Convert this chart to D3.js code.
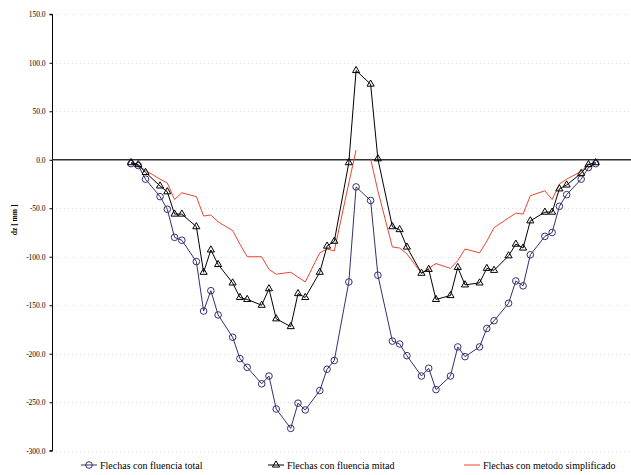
<!DOCTYPE html>
<html><head><meta charset="utf-8">
<script src="https://cdn.jsdelivr.net/npm/d3@7"></script>
<style>
html,body{margin:0;padding:0;background:#fff;}
svg{display:block;}
svg text{font-family:"Liberation Serif","DejaVu Serif",serif !important;fill:#000;}
</style></head>
<body>
<svg id="chart" width="631" height="475"></svg>
<script>
// station positions (horizontal axis is hidden)
const stations = [0,1,2,4,5,6,7,9,10,11,12,14,15,16,18,19,20,22,23,24,26,27,28,30,31,
                  33,34,36,37,38,40,41,42,44,45,46,48,49,50,52,53,54,55,57,58,59,60,62,63,64];
const fluenciaTotal = [-4,-6,-20,-38,-51,-80,-83,-105,-156,-135,-160,-183,-205,-214,-231,-223,-257,-277,-251,-258,-238,-216,-207,-126,-28,
                       -42,-119,-187,-190,-202,-223,-215,-237,-223,-193,-203,-193,-174,-166,-148,-125,-130,-98,-79,-75,-48,-36,-20,-8,-4];
const fluenciaMitad = [-3,-5,-13,-27,-33,-56,-56,-69,-116,-93,-108,-127,-142,-144,-150,-133,-164,-172,-138,-142,-116,-89,-84,-3,92,
                       78,1,-69,-72,-90,-117,-113,-144,-140,-111,-129,-127,-112,-114,-99,-87,-91,-63,-54,-54,-30,-26,-14,-5,-3];
// simplified method: same stations, with a break at the centre (station 32)
const simpStations = [0,1,2,4,5,6,7,9,10,11,12,14,15,16,18,19,20,22,23,24,26,27,28,30,31,32,
                      33,34,36,37,38,40,41,42,44,45,46,48,49,50,52,53,54,55,57,58,59,60,62,63,64];
const metodoSimplificado = [-3,-6,-11,-20,-24,-41,-34,-38,-58,-57,-64,-73,-87,-100,-100,-113,-118,-116,-121,-126,-96,-92,-94,-24,10,null,
                            1,-32,-90,-91,-97,-117,-112,-107,-112,-104,-92,-96,-84,-70,-60,-55,-56,-37,-32,-41,-25,-20,-12,-5,-3];
const yTicks = [150,100,50,0,-50,-100,-150,-200,-250,-300];
const seriesNames = ["Flechas con fluencia total","Flechas con fluencia mitad","Flechas con metodo simplificado"];
const colors = {total:"#35306f", mitad:"#000000", simp:"#ee4433"};

const svg = d3.select("#chart");
const x = d3.scaleLinear().domain([0,64]).range([131,595.7]);
const y = d3.scaleLinear().domain([-300,150]).range([450.7,14.3]);
const plotLeft = 52, plotRight = 631;

// gridlines
svg.append("g").selectAll("line").data(yTicks.filter(d=>d!==0)).join("line")
  .attr("x1",plotLeft).attr("x2",plotRight)
  .attr("y1",d=>Math.round(y(d))+0.5).attr("y2",d=>Math.round(y(d))+0.5)
  .attr("stroke","#dcdcdc").attr("stroke-width",1).attr("stroke-dasharray","1,3");

// y axis
const yAxis = d3.axisLeft(y).tickValues(yTicks).tickFormat(d=>d.toFixed(1)).tickSize(3).tickPadding(4);
const ga = svg.append("g").attr("transform",`translate(${plotLeft+0.5},0)`).call(yAxis);
ga.select(".domain").attr("d",`M-3,${y(150)}H0V${y(-300)}H-3`).attr("stroke","#000");
ga.selectAll(".tick line").attr("stroke","#000");
ga.selectAll("text").attr("font-size","7.5px");

// zero line
svg.append("line").attr("x1",plotLeft).attr("x2",plotRight)
  .attr("y1",y(0)).attr("y2",y(0)).attr("stroke","#333").attr("stroke-width",1.3);

// axis title
svg.append("text").attr("transform",`translate(17,${y(-62)}) rotate(-90)`)
  .attr("text-anchor","middle")
  .attr("font-size","7.5px").attr("font-weight","bold").text("dz [ mm ]");

const line = d3.line().defined(d=>d[1]!==null).x(d=>x(d[0])).y(d=>y(d[1]));

// simplified line
svg.append("path").datum(simpStations.map((s,i)=>[s,metodoSimplificado[i]]))
  .attr("d",line).attr("fill","none").attr("stroke",colors.simp).attr("stroke-width",1);

// total
const totData = stations.map((s,i)=>[s,fluenciaTotal[i]]);
svg.append("path").datum(totData).attr("d",line).attr("fill","none").attr("stroke",colors.total).attr("stroke-width",1);
svg.append("g").selectAll("circle").data(totData).join("circle")
  .attr("cx",d=>x(d[0])).attr("cy",d=>y(d[1])).attr("r",3.3)
  .attr("fill","none").attr("stroke",colors.total).attr("stroke-width",1);

// mitad
const mitData = stations.map((s,i)=>[s,fluenciaMitad[i]]);
svg.append("path").datum(mitData).attr("d",line).attr("fill","none").attr("stroke",colors.mitad).attr("stroke-width",1);
const tri = d3.symbol().type(d3.symbolTriangle).size(22);
svg.append("g").selectAll("path").data(mitData).join("path")
  .attr("d",tri).attr("transform",d=>`translate(${x(d[0])},${y(d[1])})`)
  .attr("fill","none").attr("stroke",colors.mitad).attr("stroke-width",1);

// legend
const ly = 465;
const lg = svg.append("g").attr("font-size","10px");
const legendItems = [
  {x:81, name:seriesNames[0], color:colors.total, mark:"circle"},
  {x:268, name:seriesNames[1], color:colors.mitad, mark:"tri"},
  {x:464, name:seriesNames[2], color:colors.simp, mark:null}
];
legendItems.forEach(it=>{
  lg.append("line").attr("x1",it.x).attr("x2",it.x+16).attr("y1",ly).attr("y2",ly).attr("stroke",it.color).attr("stroke-width",1);
  if(it.mark==="circle") lg.append("circle").attr("cx",it.x+8).attr("cy",ly).attr("r",3.3).attr("fill","none").attr("stroke",it.color);
  if(it.mark==="tri") lg.append("path").attr("d",tri).attr("transform",`translate(${it.x+8},${ly})`).attr("fill","none").attr("stroke",it.color);
  lg.append("text").attr("x",it.x+19).attr("y",ly+3.5).text(it.name);
});
</script>
</body></html>
